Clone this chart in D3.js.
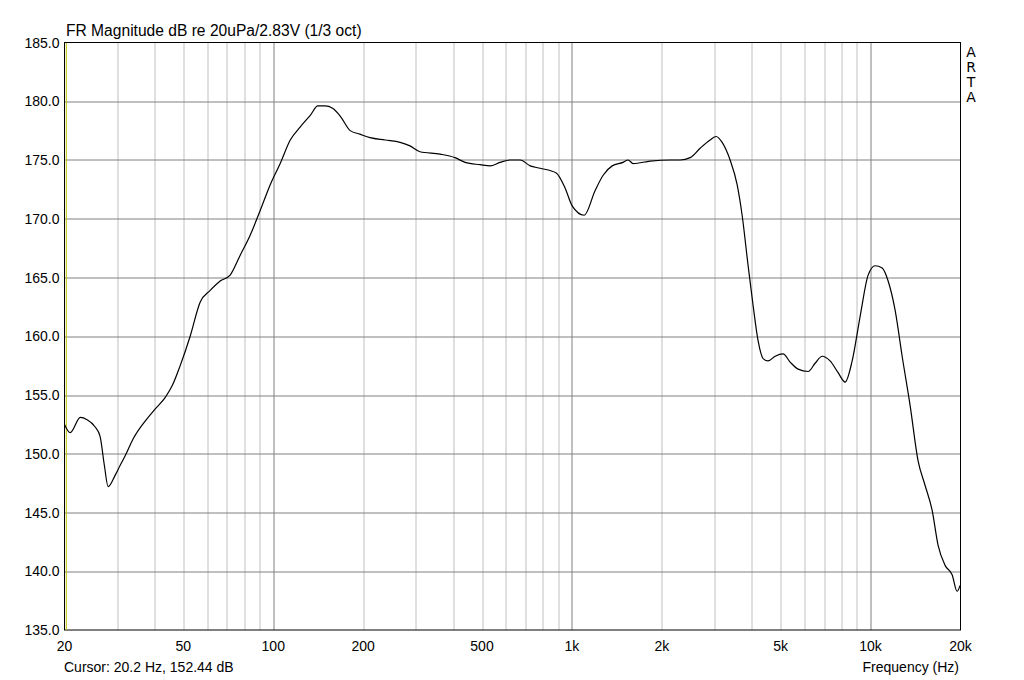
<!DOCTYPE html>
<html>
<head>
<meta charset="utf-8">
<script src="https://cdn.jsdelivr.net/npm/d3@7"></script>
<style>
  body { margin: 0; background: #fff; }
  svg { font-family: "Liberation Sans", Arial, sans-serif; }
</style>
</head>
<body>
<script>
// FR magnitude
var freqs = [20, 20.9, 22.6, 23.8, 25.3, 26.3, 27.2, 28.0, 29.6, 30.7, 31.9, 34.0, 37.3, 40.2,
  43.5, 45.9, 48.8, 52.7, 56.9, 61.5, 66.4, 71.7, 77.5, 83.7, 90.4, 97.7, 105.5, 114, 123,
  133, 141, 149, 158, 168, 181, 195, 211, 237, 266, 287, 310, 362, 406, 439, 493, 532, 575,
  621, 671, 725, 783, 886, 949, 1002, 1099, 1196, 1272, 1364, 1484, 1542, 1603, 1828, 2133,
  2304, 2489, 2687, 2902, 3040, 3184, 3386, 3574, 3714, 3890, 4043, 4202, 4367, 4538, 4791,
  5094, 5378, 5719, 6178, 6521, 6883, 7318, 7785, 8218, 8675, 9226, 9812, 10356, 10932,
  11448, 12084, 12754, 13564, 14422, 15224, 16068, 16828, 17758, 18748, 19482, 19940];
var levels = [152.5, 151.8, 153.1, 152.9, 152.3, 151.5, 149.0, 147.2, 148.2, 149.0, 149.8, 151.3,
  152.8, 153.8, 154.8, 155.8, 157.5, 160.0, 162.9, 163.9, 164.7, 165.2, 166.9, 168.6, 170.7,
  172.9, 174.7, 176.7, 177.8, 178.8, 179.6, 179.6, 179.4, 178.7, 177.5, 177.2, 176.9, 176.7,
  176.5, 176.2, 175.7, 175.5, 175.2, 174.8, 174.6, 174.5, 174.8, 175.0, 175.0, 174.5, 174.3,
  173.9, 172.6, 171.1, 170.3, 172.4, 173.7, 174.5, 174.8, 175.0, 174.7, 174.9, 175.0, 175.0,
  175.2, 176.0, 176.7, 177.0, 176.5, 175.0, 172.9, 170.3, 166.0, 162.6, 159.6, 158.1, 157.9,
  158.3, 158.5, 157.8, 157.2, 157.0, 157.7, 158.3, 157.9, 156.9, 156.1, 157.9, 161.7, 165.2,
  166.0, 165.8, 164.7, 162.2, 158.3, 154.1, 149.4, 147.3, 145.2, 142.2, 140.5, 139.7, 138.3, 138.8];

var xTickValues = [20, 50, 100, 200, 500, 1000, 2000, 5000, 10000, 20000];
var xTickLabels = ["20", "50", "100", "200", "500", "1k", "2k", "5k", "10k", "20k"];
var minorFreqs = [30, 40, 50, 60, 70, 80, 90, 200, 300, 400, 500, 600, 700, 800, 900,
  2000, 3000, 4000, 5000, 6000, 7000, 8000, 9000];
var majorFreqs = [100, 1000, 10000];
var yTickValues = [135, 140, 145, 150, 155, 160, 165, 170, 175, 180, 185];

var titleText = "FR Magnitude dB re 20uPa/2.83V (1/3 oct)";
var cursorText = "Cursor: 20.2 Hz, 152.44 dB";
var xLabelText = "Frequency (Hz)";
var tagLetters = ["A", "R", "T", "A"];

var margin = { top: 42.5, right: 64, bottom: 50, left: 64.5 },
  width = 1024,
  height = 680,
  plotW = 960.5 - margin.left,
  plotH = 630 - margin.top;

var data = freqs.map(function(f, i) { return { f: f, db: levels[i] }; });

var x = d3.scaleLog().domain([20, 20000]).range([0, plotW]);
var y = d3.scaleLinear().domain([135, 185]).range([plotH, 0]);

var svg = d3.select("body").append("svg")
  .attr("width", width)
  .attr("height", height);

var g = svg.append("g")
  .attr("transform", "translate(" + margin.left + "," + margin.top + ")");

// grid
g.selectAll(".minor").data(minorFreqs).enter().append("line")
  .attr("x1", function(d) { return Math.round(x(d)) + 0.5; })
  .attr("x2", function(d) { return Math.round(x(d)) + 0.5; })
  .attr("y1", 0).attr("y2", plotH)
  .attr("stroke", "#c0c0c0");

g.selectAll(".hgrid").data(yTickValues.slice(1, -1)).enter().append("line")
  .attr("x1", 0).attr("x2", plotW)
  .attr("y1", function(d) { return Math.round(y(d)) + 0.5; })
  .attr("y2", function(d) { return Math.round(y(d)) + 0.5; })
  .attr("stroke", "#808080");

g.selectAll(".major").data(majorFreqs).enter().append("line")
  .attr("x1", function(d) { return Math.round(x(d)) + 0.5; })
  .attr("x2", function(d) { return Math.round(x(d)) + 0.5; })
  .attr("y1", 0).attr("y2", plotH)
  .attr("stroke", "#808080");

// frame
g.append("rect")
  .attr("x", 0).attr("y", 0)
  .attr("width", plotW).attr("height", plotH)
  .attr("fill", "none")
  .attr("stroke", "#000");

// cursor line
g.append("line")
  .attr("x1", x(20.2) + 0.5).attr("x2", x(20.2) + 0.5)
  .attr("y1", 0.5).attr("y2", plotH)
  .attr("stroke", "#c0c000");

// the response curve
var valueline = d3.line()
  .x(function(d) { return x(d.f); })
  .y(function(d) { return y(d.db); })
  .curve(d3.curveMonotoneX);

g.append("path")
  .attr("d", valueline(data))
  .attr("fill", "none")
  .attr("stroke", "#000")
  .attr("stroke-width", 1.2);

// y tick labels
g.selectAll(".ylab").data(yTickValues).enter().append("text")
  .attr("x", -5)
  .attr("y", function(d) { return y(d); })
  .attr("dy", "0.36em")
  .attr("text-anchor", "end")
  .attr("font-size", 14)
  .text(function(d) { return d.toFixed(1); });

// x tick labels
g.selectAll(".xlab").data(xTickValues).enter().append("text")
  .attr("x", function(d) { return x(d); })
  .attr("y", plotH + 21)
  .attr("text-anchor", "middle")
  .attr("font-size", 14)
  .text(function(d, i) { return xTickLabels[i]; });

svg.append("text")
  .attr("x", 66).attr("y", 36)
  .attr("font-size", 15.6)
  .text(titleText);

svg.append("text")
  .attr("x", 64).attr("y", 672)
  .attr("font-size", 14)
  .text(cursorText);

svg.append("text")
  .attr("x", 959).attr("y", 672)
  .attr("text-anchor", "end")
  .attr("font-size", 14)
  .text(xLabelText);

// ARTA tag on the right
svg.selectAll(".arta").data(tagLetters).enter().append("text")
  .attr("x", 971)
  .attr("y", function(d, i) { return 57 + i * 15; })
  .attr("text-anchor", "middle")
  .attr("font-size", 14)
  .attr("font-family", "DejaVu Sans, sans-serif")
  .text(function(d) { return d; });
</script>
</body>
</html>
